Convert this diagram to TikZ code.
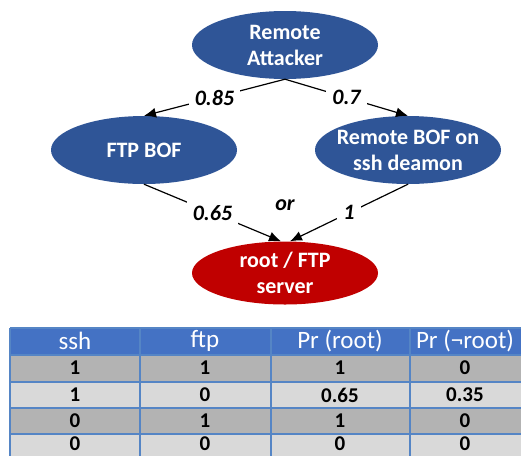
\documentclass[tikz,border=0pt]{standalone}
\usepackage{fontspec}
\setmainfont{Carlito}
\usetikzlibrary{positioning, arrows.meta, shapes.geometric, calc}
\definecolor{nodeblue}{HTML}{2F5597}
\definecolor{rootred}{HTML}{C00000}
\definecolor{headblue}{HTML}{4472C4}
\definecolor{gridblue}{HTML}{5585C5}
\definecolor{rowdark}{HTML}{B3B3B3}
\definecolor{rowlight}{HTML}{D9D9D9}

\begin{document}
\begin{tikzpicture}[x=1pt, y=-1pt, >={Latex[length=12pt,width=10pt]},
		event/.style={ellipse, fill=nodeblue, text=white, align=center,
			font=\bfseries\fontsize{22}{26}\selectfont,
			minimum width=186pt, minimum height=68pt, inner xsep=-12pt, inner ysep=0pt},
		prob/.style={fill=white, inner sep=6pt, font=\bfseries\itshape\fontsize{22}{26}\selectfont},
		head/.style={text=white, font=\fontsize{25}{27}\selectfont},
		cell/.style={font=\bfseries\fontsize{21}{24}\selectfont},
		grid/.style={gridblue, line width=2pt}]
		
		\useasboundingbox (0,0) rectangle (521,456);
		
		% Draw attack graph
		\node[event] (attacker) at (285,45) {Remote\\Attacker};
		\node[event] (ftpbof) at (144,150) {FTP BOF};
		\node[event] (sshbof) at (408,150) {Remote BOF on\\ssh deamon};
		\node[event, fill=rootred, minimum height=63pt] (root) at (285,273) {root / FTP\\server};
		
		% Add edges with probabilities
		\draw[->, line width=1.2pt] (attacker.south) -- node[prob] (p-ftp) {0.85} (ftpbof.north);
		\draw[->, line width=1.2pt] (attacker.south) -- node[prob] (p-ssh) {0.7} (sshbof.north);
		\draw[->, line width=1.2pt] (ftpbof.south) -- node[prob] (p-rootftp) {0.65} ([xshift=-4pt]root.north);
		\draw[->, line width=1.2pt] (sshbof.south) -- node[prob] (p-rootssh) {1} ([xshift=5pt]root.north);
		\node[prob, fill=none] (gate) at (285,205) {or};
		
		% Draw table
		\foreach \y/\yy/\shade in {328/355/headblue, 355/382/rowdark, 382/408/rowlight, 408/434/rowdark, 434/456/rowlight}
		\fill[\shade] (10,\y) rectangle (521,\yy);
		\foreach \y in {328,355,382,408,434}
		\draw[grid] (10,\y) -- (521,\y);
		\foreach \x in {10,140,271,410}
		\draw[grid] (\x,328) -- (\x,456);
		
		% Add table text
		\foreach \x/\n/\txt in {75/1/ssh, 205/2/ftp, 340/3/Pr (root), 465/4/Pr (¬root)}
		\node[head] (h-\n) at (\x,341) {\txt};
		\foreach \y/\r/\a/\b/\c/\d in {368/1/1/1/1/0, 395/2/1/0/0.65/0.35, 421/3/0/1/1/0, 444/4/0/0/0/0}{
			\node[cell] (c-\r-1) at (75,\y) {\a};
			\node[cell] (c-\r-2) at (205,\y) {\b};
			\node[cell] (c-\r-3) at (340,\y) {\c};
			\node[cell] (c-\r-4) at (465,\y) {\d};
		}
		
	\end{tikzpicture}
\end{document}
